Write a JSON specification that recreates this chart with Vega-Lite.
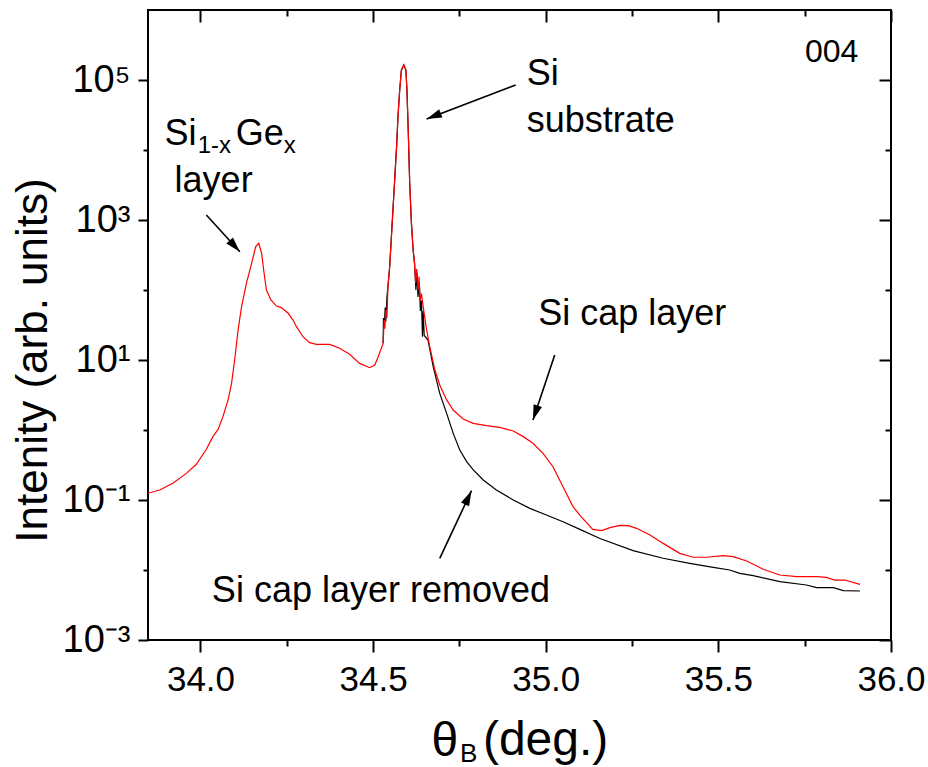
{
  "$schema": "https://vega.github.io/schema/vega-lite/v6.json",
  "width": 743,
  "height": 630,
  "autosize": {"type": "none"},
  "padding": {"left": 148, "top": 10, "right": 37, "bottom": 127},
  "background": "white",
  "config": {
    "font": "Liberation Sans",
    "view": {"stroke": "black", "strokeWidth": 2},
    "axis": {"domain": false, "grid": false, "tickColor": "black", "tickWidth": 2, "labelColor": "black", "titleColor": "black", "labelFlush": false, "labelOverlap": false, "labelFont": "Liberation Sans", "titleFont": "Liberation Sans", "titleFontWeight": "normal"}
  },
  "datasets": {
    "curves": [
      {"sample":"Si cap layer","theta":33.848,"intensity":0.125},{"sample":"Si cap layer","theta":33.882,"intensity":0.139},{"sample":"Si cap layer","theta":33.92,"intensity":0.173},{"sample":"Si cap layer","theta":33.959,"intensity":0.24},{"sample":"Si cap layer","theta":33.988,"intensity":0.324},{"sample":"Si cap layer","theta":34.017,"intensity":0.53},{"sample":"Si cap layer","theta":34.036,"intensity":0.804},{"sample":"Si cap layer","theta":34.051,"intensity":1.02},{"sample":"Si cap layer","theta":34.065,"intensity":1.55},{"sample":"Si cap layer","theta":34.08,"intensity":2.69},{"sample":"Si cap layer","theta":34.09,"intensity":4.65},{"sample":"Si cap layer","theta":34.099,"intensity":10.0},{"sample":"Si cap layer","theta":34.109,"intensity":26.9},{"sample":"Si cap layer","theta":34.119,"intensity":57.8},{"sample":"Si cap layer","theta":34.133,"intensity":124.7},{"sample":"Si cap layer","theta":34.148,"intensity":240},{"sample":"Si cap layer","theta":34.16,"intensity":416},{"sample":"Si cap layer","theta":34.169,"intensity":465},{"sample":"Si cap layer","theta":34.177,"intensity":334},{"sample":"Si cap layer","theta":34.183,"intensity":193},{"sample":"Si cap layer","theta":34.191,"intensity":100},{"sample":"Si cap layer","theta":34.204,"intensity":71.9},{"sample":"Si cap layer","theta":34.22,"intensity":59.0},{"sample":"Si cap layer","theta":34.234,"intensity":56.0},{"sample":"Si cap layer","theta":34.254,"intensity":46.5},{"sample":"Si cap layer","theta":34.268,"intensity":37.2},{"sample":"Si cap layer","theta":34.278,"intensity":29.9},{"sample":"Si cap layer","theta":34.297,"intensity":21.5},{"sample":"Si cap layer","theta":34.316,"intensity":17.7},{"sample":"Si cap layer","theta":34.336,"intensity":16.7},{"sample":"Si cap layer","theta":34.374,"intensity":16.7},{"sample":"Si cap layer","theta":34.403,"intensity":14.7},{"sample":"Si cap layer","theta":34.432,"intensity":12.05},{"sample":"Si cap layer","theta":34.461,"intensity":8.95},{"sample":"Si cap layer","theta":34.49,"intensity":7.76},{"sample":"Si cap layer","theta":34.505,"intensity":8.49},{"sample":"Si cap layer","theta":34.515,"intensity":11.2},{"sample":"Si cap layer","theta":34.529,"intensity":17.3},{"sample":"Si cap layer","theta":34.532,"intensity":37.2},{"sample":"Si cap layer","theta":34.534,"intensity":28.2},{"sample":"Si cap layer","theta":34.537,"intensity":51.8},{"sample":"Si cap layer","theta":34.54,"intensity":39.8},{"sample":"Si cap layer","theta":34.543,"intensity":111.7},{"sample":"Si cap layer","theta":34.548,"intensity":215},{"sample":"Si cap layer","theta":34.553,"intensity":578},{"sample":"Si cap layer","theta":34.558,"intensity":1549},{"sample":"Si cap layer","theta":34.563,"intensity":4159},{"sample":"Si cap layer","theta":34.568,"intensity":11170},{"sample":"Si cap layer","theta":34.572,"intensity":29920},{"sample":"Si cap layer","theta":34.577,"intensity":71940},{"sample":"Si cap layer","theta":34.582,"intensity":139000},{"sample":"Si cap layer","theta":34.589,"intensity":163700},{"sample":"Si cap layer","theta":34.595,"intensity":139000},{"sample":"Si cap layer","theta":34.598,"intensity":71940},{"sample":"Si cap layer","theta":34.602,"intensity":17300},{"sample":"Si cap layer","theta":34.606,"intensity":3342},{"sample":"Si cap layer","theta":34.611,"intensity":895},{"sample":"Si cap layer","theta":34.616,"intensity":372},{"sample":"Si cap layer","theta":34.62,"intensity":240},{"sample":"Si cap layer","theta":34.623,"intensity":126},{"sample":"Si cap layer","theta":34.626,"intensity":200},{"sample":"Si cap layer","theta":34.63,"intensity":100},{"sample":"Si cap layer","theta":34.633,"intensity":155},{"sample":"Si cap layer","theta":34.636,"intensity":70.8},{"sample":"Si cap layer","theta":34.64,"intensity":89},{"sample":"Si cap layer","theta":34.645,"intensity":57.8},{"sample":"Si cap layer","theta":34.655,"intensity":26.9},{"sample":"Si cap layer","theta":34.664,"intensity":15.5},{"sample":"Si cap layer","theta":34.679,"intensity":7.19},{"sample":"Si cap layer","theta":34.693,"intensity":4.4},{"sample":"Si cap layer","theta":34.713,"intensity":2.69},{"sample":"Si cap layer","theta":34.732,"intensity":1.93},{"sample":"Si cap layer","theta":34.761,"intensity":1.435},{"sample":"Si cap layer","theta":34.79,"intensity":1.245},{"sample":"Si cap layer","theta":34.828,"intensity":1.153},{"sample":"Si cap layer","theta":34.867,"intensity":1.091},{"sample":"Si cap layer","theta":34.906,"intensity":0.968},{"sample":"Si cap layer","theta":34.935,"intensity":0.804},{"sample":"Si cap layer","theta":34.963,"intensity":0.646},{"sample":"Si cap layer","theta":34.992,"intensity":0.465},{"sample":"Si cap layer","theta":35.021,"intensity":0.299},{"sample":"Si cap layer","theta":35.05,"intensity":0.155},{"sample":"Si cap layer","theta":35.079,"intensity":0.0804},{"sample":"Si cap layer","theta":35.099,"intensity":0.0603},{"sample":"Si cap layer","theta":35.113,"intensity":0.0507},{"sample":"Si cap layer","theta":35.136,"intensity":0.0381},{"sample":"Si cap layer","theta":35.162,"intensity":0.0365},{"sample":"Si cap layer","theta":35.186,"intensity":0.0403},{"sample":"Si cap layer","theta":35.215,"intensity":0.0435},{"sample":"Si cap layer","theta":35.239,"intensity":0.043},{"sample":"Si cap layer","theta":35.263,"intensity":0.0394},{"sample":"Si cap layer","theta":35.302,"intensity":0.0316},{"sample":"Si cap layer","theta":35.34,"intensity":0.024},{"sample":"Si cap layer","theta":35.388,"intensity":0.0173},{"sample":"Si cap layer","theta":35.427,"intensity":0.0152},{"sample":"Si cap layer","theta":35.466,"intensity":0.0152},{"sample":"Si cap layer","theta":35.514,"intensity":0.016},{"sample":"Si cap layer","theta":35.543,"intensity":0.0155},{"sample":"Si cap layer","theta":35.582,"intensity":0.01346},{"sample":"Si cap layer","theta":35.63,"intensity":0.01023},{"sample":"Si cap layer","theta":35.678,"intensity":0.00849},{"sample":"Si cap layer","theta":35.727,"intensity":0.00804},{"sample":"Si cap layer","theta":35.785,"intensity":0.00804},{"sample":"Si cap layer","theta":35.813,"intensity":0.00785},{"sample":"Si cap layer","theta":35.837,"intensity":0.00719},{"sample":"Si cap layer","theta":35.866,"intensity":0.00719},{"sample":"Si cap layer","theta":35.91,"intensity":0.00624},
      {"sample":"cap removed","theta":34.529,"intensity":17.3},{"sample":"cap removed","theta":34.53,"intensity":39.8},{"sample":"cap removed","theta":34.532,"intensity":28.2},{"sample":"cap removed","theta":34.535,"intensity":56.2},{"sample":"cap removed","theta":34.537,"intensity":35.5},{"sample":"cap removed","theta":34.54,"intensity":79.4},{"sample":"cap removed","theta":34.543,"intensity":112},{"sample":"cap removed","theta":34.548,"intensity":215},{"sample":"cap removed","theta":34.553,"intensity":578},{"sample":"cap removed","theta":34.558,"intensity":1549},{"sample":"cap removed","theta":34.563,"intensity":4159},{"sample":"cap removed","theta":34.568,"intensity":11170},{"sample":"cap removed","theta":34.572,"intensity":29920},{"sample":"cap removed","theta":34.577,"intensity":71940},{"sample":"cap removed","theta":34.582,"intensity":139000},{"sample":"cap removed","theta":34.589,"intensity":163700},{"sample":"cap removed","theta":34.595,"intensity":139000},{"sample":"cap removed","theta":34.598,"intensity":71940},{"sample":"cap removed","theta":34.602,"intensity":17300},{"sample":"cap removed","theta":34.606,"intensity":3342},{"sample":"cap removed","theta":34.611,"intensity":895},{"sample":"cap removed","theta":34.616,"intensity":372},{"sample":"cap removed","theta":34.62,"intensity":240},{"sample":"cap removed","theta":34.624,"intensity":100},{"sample":"cap removed","theta":34.627,"intensity":178},{"sample":"cap removed","theta":34.63,"intensity":79.4},{"sample":"cap removed","theta":34.634,"intensity":126},{"sample":"cap removed","theta":34.637,"intensity":50.1},{"sample":"cap removed","theta":34.64,"intensity":70.8},{"sample":"cap removed","theta":34.643,"intensity":21.5},{"sample":"cap removed","theta":34.645,"intensity":50.1},{"sample":"cap removed","theta":34.648,"intensity":22.4},{"sample":"cap removed","theta":34.659,"intensity":19.3},{"sample":"cap removed","theta":34.674,"intensity":8.04},{"sample":"cap removed","theta":34.693,"intensity":3.34},{"sample":"cap removed","theta":34.713,"intensity":1.73},{"sample":"cap removed","theta":34.732,"intensity":0.895},{"sample":"cap removed","theta":34.751,"intensity":0.518},{"sample":"cap removed","theta":34.771,"intensity":0.353},{"sample":"cap removed","theta":34.79,"intensity":0.269},{"sample":"cap removed","theta":34.819,"intensity":0.193},{"sample":"cap removed","theta":34.857,"intensity":0.139},{"sample":"cap removed","theta":34.906,"intensity":0.1},{"sample":"cap removed","theta":34.954,"intensity":0.076},{"sample":"cap removed","theta":35.002,"intensity":0.0611},{"sample":"cap removed","theta":35.05,"intensity":0.049},{"sample":"cap removed","theta":35.099,"intensity":0.038},{"sample":"cap removed","theta":35.157,"intensity":0.0282},{"sample":"cap removed","theta":35.253,"intensity":0.0189},{"sample":"cap removed","theta":35.34,"intensity":0.0147},{"sample":"cap removed","theta":35.417,"intensity":0.01245},{"sample":"cap removed","theta":35.485,"intensity":0.01091},{"sample":"cap removed","theta":35.533,"intensity":0.01},{"sample":"cap removed","theta":35.562,"intensity":0.00895},{"sample":"cap removed","theta":35.601,"intensity":0.0083},{"sample":"cap removed","theta":35.678,"intensity":0.00681},{"sample":"cap removed","theta":35.755,"intensity":0.00611},{"sample":"cap removed","theta":35.785,"intensity":0.0056},{"sample":"cap removed","theta":35.833,"intensity":0.0056},{"sample":"cap removed","theta":35.862,"intensity":0.00507},{"sample":"cap removed","theta":35.91,"intensity":0.00501}
    ],
    "labels": [
      {"theta":34.945,"intensity":84850,"text":"Si"},
      {"theta":34.945,"intensity":18070,"text":"substrate"},
      {"theta":33.896,"intensity":11790,"text":"Si"},
      {"theta":34.102,"intensity":11790,"text":"Ge"},
      {"theta":33.925,"intensity":2512,"text":"layer"},
      {"theta":34.978,"intensity":31.62,"text":"Si cap layer"},
      {"theta":34.033,"intensity":0.00349,"text":"Si cap layer removed"}
    ],
    "subs": [
      {"theta":33.992,"intensity":9057,"text":"1-x"},
      {"theta":34.241,"intensity":9057,"text":"x"}
    ],
    "panel": [
      {"theta":35.751,"intensity":180700,"text":"004"}
    ],
    "xsub": [
      {"theta":34.752,"intensity":0.000018,"text":"B"}
    ],
    "xunit": [
      {"theta":34.818,"intensity":0.0000228,"text":"(deg.)"}
    ],
    "arrows": [
      {"id":"sige","x1":34.017,"y1":1179,"x2":34.114,"y2":352.6},
      {"id":"substrate","x1":34.913,"y1":84850,"x2":34.655,"y2":27730},
      {"id":"cap","x1":35.026,"y1":11.78,"x2":34.963,"y2":1.39},
      {"id":"removed","x1":34.693,"y1":0.01469,"x2":34.785,"y2":0.1358}
    ]
  },
  "resolve": {"axis": {"x": "independent", "y": "independent"}},
  "layer": [
    {
      "data": {"name": "curves"},
      "transform": [{"filter": "datum.sample == 'cap removed'"}],
      "mark": {"type": "line", "color": "black", "strokeWidth": 1.2},
      "encoding": {
        "x": {"field": "theta", "type": "quantitative", "scale": {"domain": [33.848, 36.0], "nice": false, "zero": false},
              "axis": {"orient": "bottom", "values": [34, 34.5, 35, 35.5, 36], "format": ".1f", "tickSize": 12, "labelFontSize": 35, "labelPadding": 10,
                       "title": "θ", "titleFontSize": 48, "titleAlign": "left", "titleAnchor": "start", "titleX": 283, "titleY": 115, "titleBaseline": "alphabetic"}},
        "y": {"field": "intensity", "type": "quantitative", "scale": {"type": "log", "domain": [0.001, 1000000], "nice": false},
              "axis": {"orient": "left", "values": [0.001, 0.1, 10, 1000, 100000], "tickSize": 10, "labelFontSize": 38, "labelPadding": 8,
                       "labelExpr": "datum.value < 0.01 ? '10⁻³' : datum.value < 1 ? '10⁻¹' : datum.value < 100 ? '10¹' : datum.value < 10000 ? '10³' : '10⁵'",
                       "title": "Intenity (arb. units)", "titleFontSize": 44, "titleAngle": 270, "titleAlign": "center", "titleBaseline": "alphabetic", "titleX": -102, "titleY": 350}}
      }
    },
    {
      "data": {"name": "curves"},
      "transform": [{"filter": "datum.sample == 'Si cap layer'"}],
      "mark": {"type": "line", "color": "#ff0000", "strokeWidth": 1.2},
      "encoding": {
        "x": {"field": "theta", "type": "quantitative", "scale": {"domain": [33.848, 36.0], "nice": false, "zero": false},
              "axis": {"orient": "bottom", "values": [34.25, 34.75, 35.25, 35.75], "tickSize": 6, "labels": false, "title": null}},
        "y": {"field": "intensity", "type": "quantitative", "scale": {"type": "log", "domain": [0.001, 1000000], "nice": false},
              "axis": {"orient": "left", "values": [0.01, 1, 100, 10000], "tickSize": 5, "labels": false, "title": null}}
      }
    },
    {
      "data": {"name": "labels"},
      "mark": {"type": "text", "align": "left", "baseline": "alphabetic", "fontSize": 36, "color": "black"},
      "encoding": {
        "x": {"field": "theta", "type": "quantitative", "scale": {"domain": [33.848, 36.0], "nice": false, "zero": false},
              "axis": {"orient": "top", "offset": -12, "values": [34, 34.5, 35, 35.5, 36], "tickSize": 12, "labels": false, "title": null}},
        "y": {"field": "intensity", "type": "quantitative", "scale": {"type": "log", "domain": [0.001, 1000000], "nice": false},
              "axis": {"orient": "right", "offset": -12, "values": [0.001, 0.1, 10, 1000, 100000], "tickSize": 12, "labels": false, "title": null}},
        "text": {"field": "text"}
      }
    },
    {
      "data": {"name": "subs"},
      "mark": {"type": "text", "align": "left", "baseline": "alphabetic", "fontSize": 24, "color": "black"},
      "encoding": {
        "x": {"field": "theta", "type": "quantitative", "scale": {"domain": [33.848, 36.0], "nice": false, "zero": false},
              "axis": {"orient": "top", "offset": -6, "values": [34.25, 34.75, 35.25, 35.75], "tickSize": 6, "labels": false, "title": null}},
        "y": {"field": "intensity", "type": "quantitative", "scale": {"type": "log", "domain": [0.001, 1000000], "nice": false},
              "axis": {"orient": "right", "offset": -6, "values": [0.01, 1, 100, 10000], "tickSize": 6, "labels": false, "title": null}},
        "text": {"field": "text"}
      }
    },
    {
      "data": {"name": "panel"},
      "mark": {"type": "text", "align": "left", "baseline": "alphabetic", "fontSize": 32, "color": "black"},
      "encoding": {
        "x": {"field": "theta", "type": "quantitative", "axis": null},
        "y": {"field": "intensity", "type": "quantitative", "axis": null},
        "text": {"field": "text"}
      }
    },
    {
      "data": {"name": "xsub"},
      "mark": {"type": "text", "align": "left", "baseline": "alphabetic", "fontSize": 26, "color": "black"},
      "encoding": {
        "x": {"field": "theta", "type": "quantitative", "axis": null},
        "y": {"field": "intensity", "type": "quantitative", "axis": null},
        "text": {"field": "text"}
      }
    },
    {
      "data": {"name": "xunit"},
      "mark": {"type": "text", "align": "left", "baseline": "alphabetic", "fontSize": 48, "color": "black"},
      "encoding": {
        "x": {"field": "theta", "type": "quantitative", "axis": null},
        "y": {"field": "intensity", "type": "quantitative", "axis": null},
        "text": {"field": "text"}
      }
    },
    {
      "data": {"name": "arrows"},
      "mark": {"type": "rule", "color": "black", "strokeWidth": 1.6},
      "encoding": {
        "x": {"field": "x1", "type": "quantitative", "axis": null},
        "y": {"field": "y1", "type": "quantitative", "axis": null},
        "x2": {"field": "x2"},
        "y2": {"field": "y2"}
      }
    },
    {
      "data": {"name": "arrows"},
      "transform": [{"filter": "datum.id == 'sige'"}],
      "mark": {"type": "point", "shape": "M0,0L0.5,1.7L-0.5,1.7Z", "filled": true, "color": "black", "opacity": 1, "size": 320, "angle": 137.8, "strokeWidth": 0},
      "encoding": {
        "x": {"field": "x2", "type": "quantitative", "axis": null},
        "y": {"field": "y2", "type": "quantitative", "axis": null}
      }
    },
    {
      "data": {"name": "arrows"},
      "transform": [{"filter": "datum.id == 'substrate'"}],
      "mark": {"type": "point", "shape": "M0,0L0.5,1.7L-0.5,1.7Z", "filled": true, "color": "black", "opacity": 1, "size": 320, "angle": 248.5, "strokeWidth": 0},
      "encoding": {
        "x": {"field": "x2", "type": "quantitative", "axis": null},
        "y": {"field": "y2", "type": "quantitative", "axis": null}
      }
    },
    {
      "data": {"name": "arrows"},
      "transform": [{"filter": "datum.id == 'cap'"}],
      "mark": {"type": "point", "shape": "M0,0L0.5,1.7L-0.5,1.7Z", "filled": true, "color": "black", "opacity": 1, "size": 320, "angle": 198.5, "strokeWidth": 0},
      "encoding": {
        "x": {"field": "x2", "type": "quantitative", "axis": null},
        "y": {"field": "y2", "type": "quantitative", "axis": null}
      }
    },
    {
      "data": {"name": "arrows"},
      "transform": [{"filter": "datum.id == 'removed'"}],
      "mark": {"type": "point", "shape": "M0,0L0.5,1.7L-0.5,1.7Z", "filled": true, "color": "black", "opacity": 1, "size": 320, "angle": 25.1, "strokeWidth": 0},
      "encoding": {
        "x": {"field": "x2", "type": "quantitative", "axis": null},
        "y": {"field": "y2", "type": "quantitative", "axis": null}
      }
    }
  ]
}
